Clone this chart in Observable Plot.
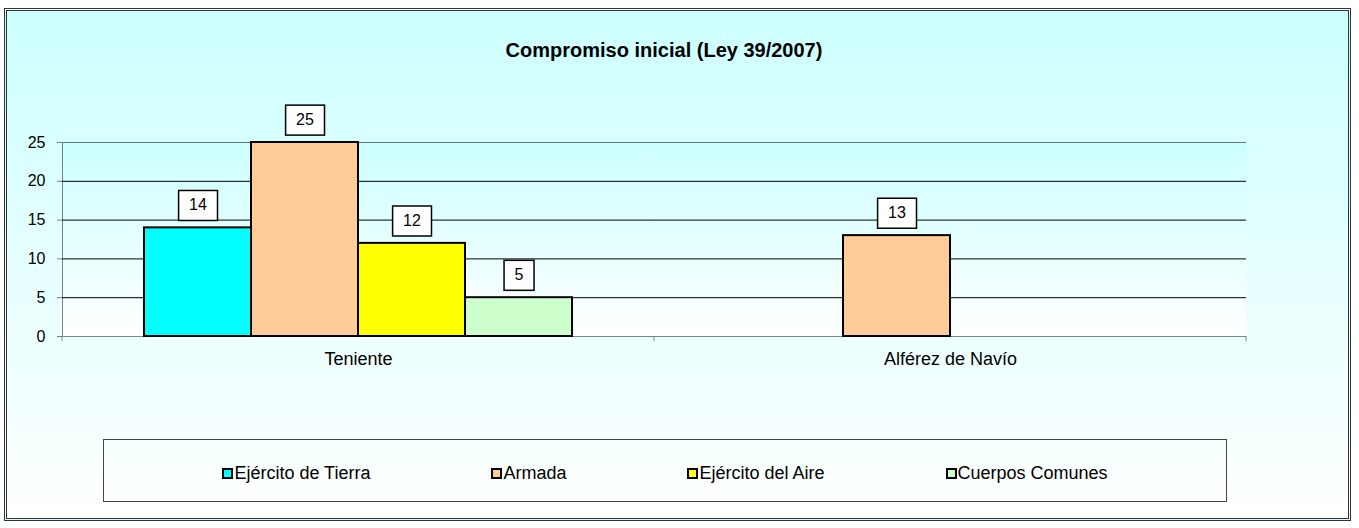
<!DOCTYPE html>
<html><head><meta charset="utf-8">
<script src="https://cdn.jsdelivr.net/npm/d3@7"></script>
<script src="https://cdn.jsdelivr.net/npm/@observablehq/plot@0.6"></script>
<style>
body{margin:0;background:#fff;font-family:"Liberation Sans",Arial,sans-serif;}
#frame{position:absolute;left:4px;top:8px;width:1347px;height:513px;box-sizing:border-box;border:3px double #333;background:linear-gradient(#CCFFFF,#FFFFFF);}
#title{position:absolute;left:0;top:40px;width:1328px;text-align:center;font-weight:bold;font-size:20px;line-height:20px;}
#chart{position:absolute;left:0;top:100px;}
#legend{position:absolute;left:103px;top:439px;width:1124px;height:63px;box-sizing:border-box;border:1px solid #444;padding-top:6px;display:flex;justify-content:center;align-items:center;gap:121px;font-size:18px;}
.item{display:flex;align-items:center;}
.sw{width:11px;height:11px;box-sizing:border-box;border:2px solid #000;margin-right:1px;}
</style></head>
<body>
<svg width="0" height="0" style="position:absolute"><defs>
<linearGradient id="pg" x1="0" y1="0" x2="0" y2="1"><stop offset="0" stop-color="#CCFFFF"/><stop offset="1" stop-color="#FFFFFF"/></linearGradient>
</defs></svg>
<div id="frame"></div>
<div id="title">Compromiso inicial (Ley 39/2007)</div>
<div id="chart"></div>
<div id="legend"></div>
<script>
const categories = ["Teniente", "Alférez de Navío"];
const series = ["Ejército de Tierra", "Armada", "Ejército del Aire", "Cuerpos Comunes"];
const colors = ["#00FFFF", "#FFCC99", "#FFFF00", "#CCFFCC"];
const tenienteValues = [14, 25, 12, 5];
const alferezValues = [0, 13, 0, 0];
const yTicks = [0, 5, 10, 15, 20, 25];

const valuesByCategory = [tenienteValues, alferezValues];
const rows = categories.flatMap((c, i) => series.map((s, j) => ({category: c, series: s, value: valuesByCategory[i][j]})));

const chart = Plot.plot({
  width: 1359, height: 280,
  marginLeft: 62, marginRight: 113, marginTop: 42, marginBottom: 44,
  style: {background: "none", fontSize: "16px", fontFamily: "Liberation Sans, Arial, sans-serif", color: "#000", overflow: "visible"},
  facet: {data: rows, x: "category"},
  fx: {domain: categories, padding: 0, axis: "bottom", label: null, tickSize: 0, tickPadding: 16},
  x: {domain: series, paddingInner: 0, paddingOuter: 0.766, axis: null},
  y: {domain: [0, 25], ticks: yTicks, tickSize: 5, tickPadding: 12, label: null, line: true},
  color: {domain: series, range: colors},
  marks: [
    Plot.frame({fill: "url(#pg)", stroke: "none"}),
    Plot.ruleY(yTicks.filter(v => v > 0 && v < 25), {stroke: "#000"}),
    Plot.ruleY([25], {stroke: "#5f7878"}),
    Plot.ruleY([0], {stroke: "#7a8a8a"}),
    Plot.barY(rows, {x: "series", y: "value", fill: "series", stroke: "#000", strokeWidth: 2, filter: d => d.value > 0}),
    Plot.text(rows, {x: "series", y: "value", text: d => String(d.value), dy: -23, fontSize: 16, fill: "#000", filter: d => d.value > 0})
  ]
});
document.getElementById("chart").append(chart);

const svg = d3.select(chart);
svg.selectAll('[aria-label^="y-axis"] path, [aria-label^="y-axis"] line').attr("stroke", "#6f8585");
svg.selectAll('[aria-label^="fx-axis"] text').attr("font-size", "18px");

// value label boxes
svg.selectAll('g[aria-label="text"] text').each(function() {
  const bb = this.getBBox();
  const padX = 10.5, h = 30;
  const cy = bb.y + bb.height / 2 + 1;
  const r = document.createElementNS("http://www.w3.org/2000/svg", "rect");
  r.setAttribute("x", bb.x - padX);
  r.setAttribute("y", cy - h / 2);
  r.setAttribute("width", bb.width + 2 * padX);
  r.setAttribute("height", h);
  r.setAttribute("fill", "#fff");
  r.setAttribute("stroke", "#000");
  r.setAttribute("stroke-width", "1.5");
  const t = this.getAttribute("transform");
  if (t) r.setAttribute("transform", t);
  this.parentNode.insertBefore(r, this);
});

// category boundary ticks
const fx = chart.scale("fx"), y = chart.scale("y");
const y0 = y.apply(0);
const xs = new Set();
fx.domain.forEach(v => { const a = fx.apply(v); xs.add(a); xs.add(a + fx.bandwidth); });
svg.append("g").selectAll("line").data([...xs]).join("line")
  .attr("x1", d => d).attr("x2", d => d).attr("y1", y0).attr("y2", y0 + 5)
  .attr("stroke", "#6f8585");

// legend
const legend = d3.select("#legend");
series.forEach((s, i) => {
  const it = legend.append("div").attr("class", "item");
  it.append("div").attr("class", "sw").style("background", colors[i]);
  it.append("span").text(s);
});
</script>
</body></html>
